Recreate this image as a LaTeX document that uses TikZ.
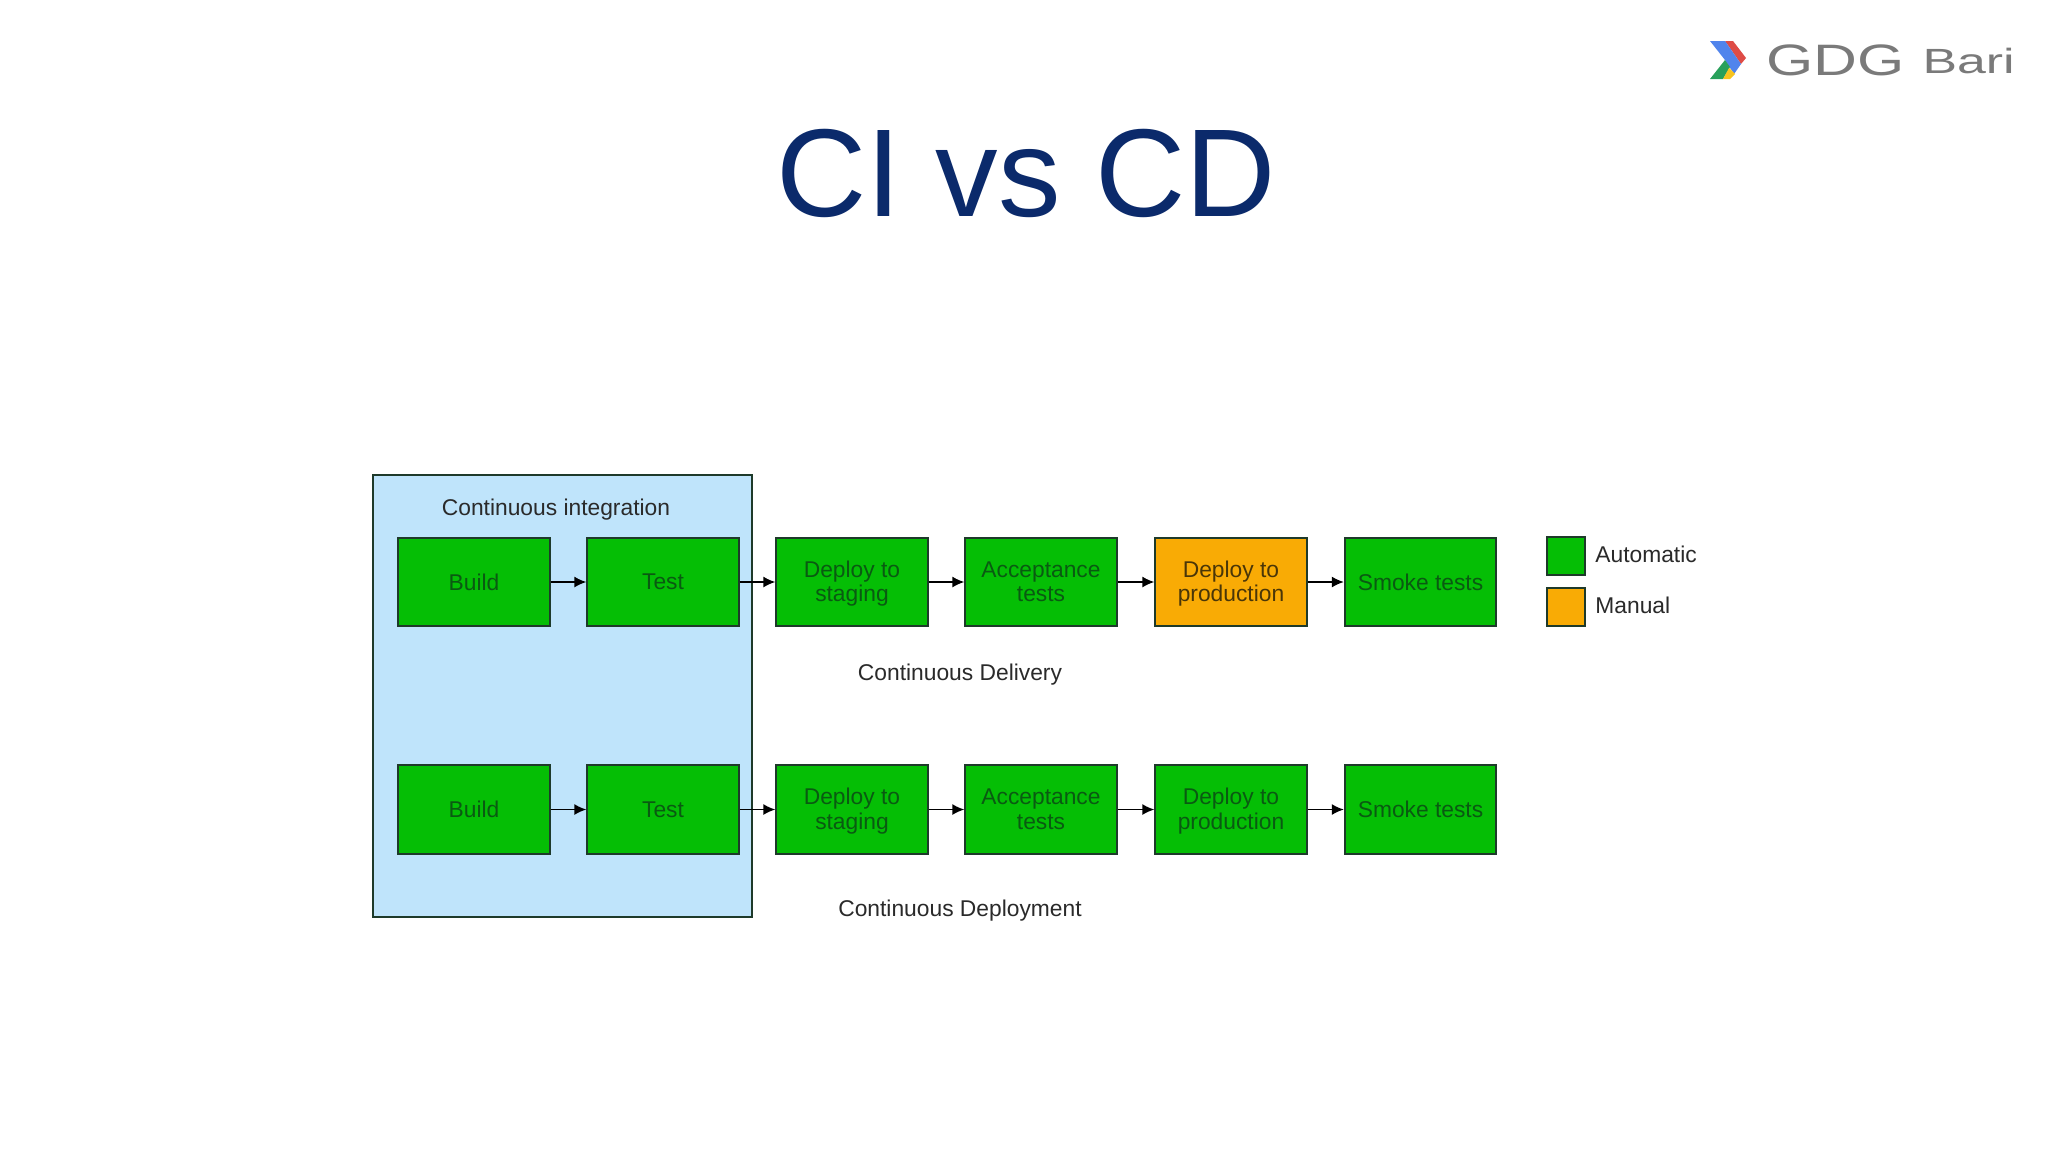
\documentclass[tikz,border=0pt]{standalone}
\usepackage{fontspec}
\setmainfont{Liberation Sans}
\usetikzlibrary{arrows.meta}
\definecolor{boxgreen}{HTML}{05BE05}
\definecolor{boxorange}{HTML}{F9AB05}
\definecolor{cibg}{HTML}{BFE4FB}
\definecolor{titleblue}{HTML}{0B2A6B}
\definecolor{edge}{HTML}{1E3A2A}
\definecolor{greentxt}{HTML}{0A5A12}
\definecolor{orangetxt}{HTML}{4A3608}
\definecolor{lbl}{HTML}{2A2A2A}
\definecolor{logogray}{HTML}{7A7A7A}
\newcommand{\lnst}{\rule[-2.4pt]{0pt}{12.3pt}}
\tikzset{
  stepbox/.style={draw=edge,line width=0.95pt,fill=boxgreen,minimum width=75.7pt,minimum height=44.2pt,inner sep=0pt,align=center,text=greentxt,font=\fontsize{11.4}{12.4}\selectfont},
  manualbox/.style={stepbox,fill=boxorange,text=orangetxt},
  swatch/.style={draw=edge,line width=0.95pt,minimum width=19pt,minimum height=19pt,inner sep=0pt},
  lab/.style={text=lbl,font=\fontsize{11.4}{14}\selectfont,inner sep=0pt},
  flow/.style={draw=black,line width=0.8pt,-{Latex[length=6pt,width=5.5pt]}}
}
\begin{document}
\begin{tikzpicture}[x=0.5pt,y=-0.5pt]
\useasboundingbox[fill=white] (0,0) rectangle (2048,1152);
% CI panel
\node[draw=edge,line width=0.95pt,fill=cibg,minimum width=189.5pt,minimum height=221pt,inner sep=0pt] (ci) at (562.5,696) {};
\node[lab] (citext) at (556,510) {Continuous integration};
% row 1
\foreach \nm/\cx/\txt/\st in {a1/474/Build/stepbox,a2/663/Test/stepbox,a3/852/{\lnst Deploy to\\\lnst staging}/stepbox,a4/1041/{\lnst Acceptance\\\lnst tests}/stepbox,a5/1231/{\lnst Deploy to\\\lnst production}/manualbox,a6/1420.5/Smoke tests/stepbox}
  \node[\st] (\nm) at (\cx,582) {\txt};
% row 2
\foreach \nm/\cx/\txt in {b1/474/Build,b2/663/Test,b3/852/{\lnst Deploy to\\\lnst staging},b4/1041/{\lnst Acceptance\\\lnst tests},b5/1231/{\lnst Deploy to\\\lnst production},b6/1420.5/Smoke tests}
  \node[stepbox] (\nm) at (\cx,809.5) {\txt};
\foreach \p/\q in {a1/a2,a2/a3,a3/a4,a4/a5,a5/a6,b1/b2,b2/b3,b3/b4,b4/b5,b5/b6}
  \draw[flow] (\p) -- (\q);
% captions
\node[lab] (cdl) at (960,674.5) {Continuous Delivery};
\node[lab] (cdp) at (960,911) {Continuous Deployment};
% legend
\node[swatch,fill=boxgreen] (sw1) at (1566,556) {};
\node[swatch,fill=boxorange] (sw2) at (1566,607) {};
\node[lab,anchor=west] (l1) at (1595,554) {Automatic};
\node[lab,anchor=west] (l2) at (1595,605) {Manual};
% title
\node[text=titleblue,font=\fontsize{62.5}{66}\selectfont,inner sep=0pt] (title) at (1026,173) {CI vs CD};
% logo
\fill[color={rgb,255:red,222;green,76;blue,70}] (1725,41) -- (1733,41) -- (1746,58) -- (1741,64) -- cycle;
\fill[color={rgb,255:red,80;green,132;blue,236}] (1710,41) -- (1725,41) -- (1741,64) -- (1734,74) -- (1725,60) -- cycle;
\fill[color={rgb,255:red,40;green,160;blue,90}] (1710,79) -- (1725,60) -- (1730,67) -- (1723,79) -- cycle;
\fill[color={rgb,255:red,248;green,196;blue,30}] (1723,79) -- (1729,68) -- (1735,74) -- (1730,79) -- cycle;
\node[text=logogray,font=\fontsize{22}{22}\selectfont,xscale=1.38,inner sep=0pt,anchor=west] (gdg) at (1766,60) {GDG};
\node[text=logogray,font=\fontsize{17.5}{18}\selectfont,xscale=1.48,inner sep=0pt,anchor=west] (bari) at (1922,61) {Bari};
\end{tikzpicture}
\end{document}
